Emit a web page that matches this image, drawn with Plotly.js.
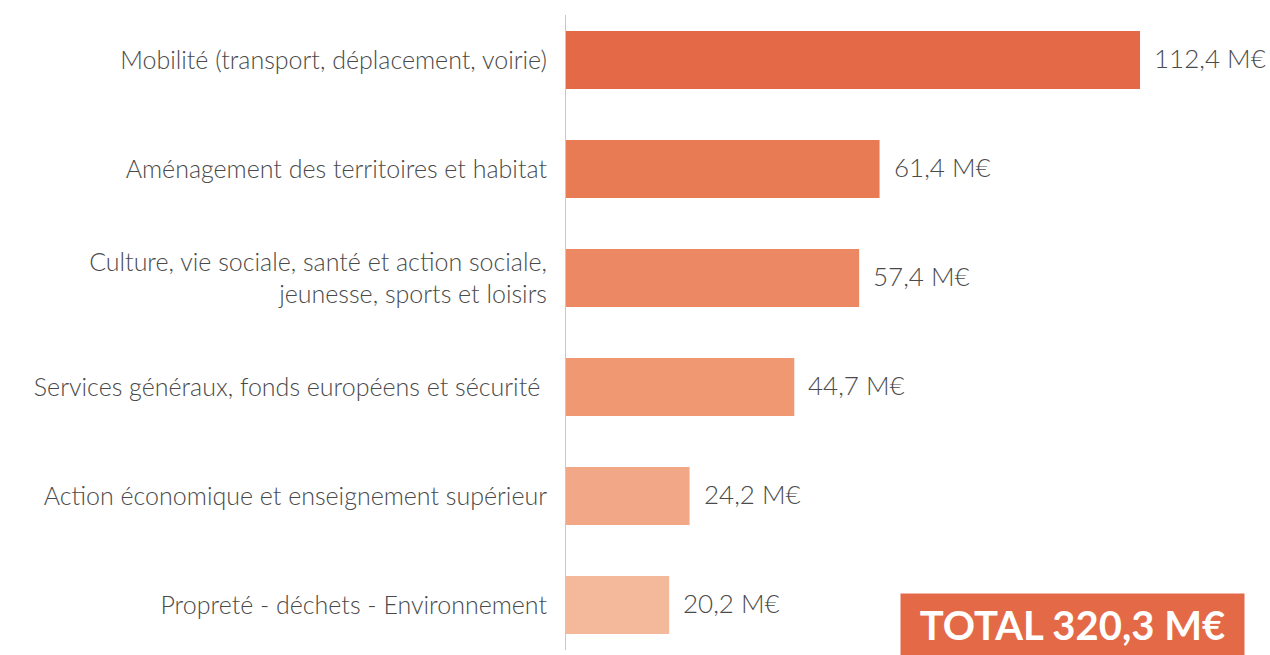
<!DOCTYPE html>
<html><head><meta charset="utf-8">
<script src="https://cdn.plot.ly/plotly-3.0.1.min.js"></script>
<style>html,body{margin:0;padding:0;background:#fff}#chart{width:1270px;height:655px}</style>
</head><body><div id="chart"></div>
<script>
const categories = [
  "Mobilité (transport, déplacement, voirie)",
  "Aménagement des territoires et habitat",
  "Culture, vie sociale, santé et action sociale,<br>jeunesse, sports et loisirs",
  "Services généraux, fonds européens et sécurité ",
  "Action économique et enseignement supérieur",
  "Propreté - déchets - Environnement"
];
const values = [112.4, 61.4, 57.4, 44.7, 24.2, 20.2];
const valueLabels = ["112,4 M€", "61,4 M€", "57,4 M€", "44,7 M€", "24,2 M€", "20,2 M€"];
const colors = ["#E46A47", "#E87A54", "#EC8864", "#EF9872", "#F2A886", "#F4B99A"];
const totalLabel = "TOTAL 320,3 M€";

const textColor = "#4a4a4a";
const font = "Lato, 'Open Sans', sans-serif";

const trace = {
  type: "bar", orientation: "h",
  x: values, y: categories,
  marker: {color: colors},
  hoverinfo: "none"
};

const annotations = values.map((v, i) => ({
  x: v, y: categories[i], xref: "x", yref: "y",
  text: valueLabels[i], showarrow: false,
  xanchor: "left", yanchor: "middle", xshift: 12, yshift: 2,
  font: {family: font, size: 26, color: textColor, weight: 300}
}));
annotations.push({
  xref: "paper", yref: "paper", x: 0.7195, y: 0.0402,
  xanchor: "center", yanchor: "middle",
  text: "<b>" + totalLabel + "</b>", showarrow: false,
  bgcolor: "#E46A47", width: 343, height: 61, borderpad: 0,
  font: {family: font, size: 40, color: "#ffffff"}
});

const layout = {
  width: 1270, height: 655,
  margin: {l: 566, r: 0, t: 15, b: 5},
  paper_bgcolor: "#ffffff", plot_bgcolor: "#ffffff",
  showlegend: false,
  bargap: 0.468,
  xaxis: {range: [0, 137.85], showgrid: false, zeroline: false, showticklabels: false, showline: false, fixedrange: true},
  yaxis: {
    type: "category", range: [5.413, -0.413],
    showline: true, linecolor: "#C8C8C8", linewidth: 1,
    showgrid: false, zeroline: false, ticks: "", ticklabelstandoff: 13,
    tickfont: {family: font, size: 25, color: textColor, weight: 300}
  },
  annotations: annotations
};

Plotly.newPlot("chart", [trace], layout, {displayModeBar: false, staticPlot: true});
</script></body></html>
